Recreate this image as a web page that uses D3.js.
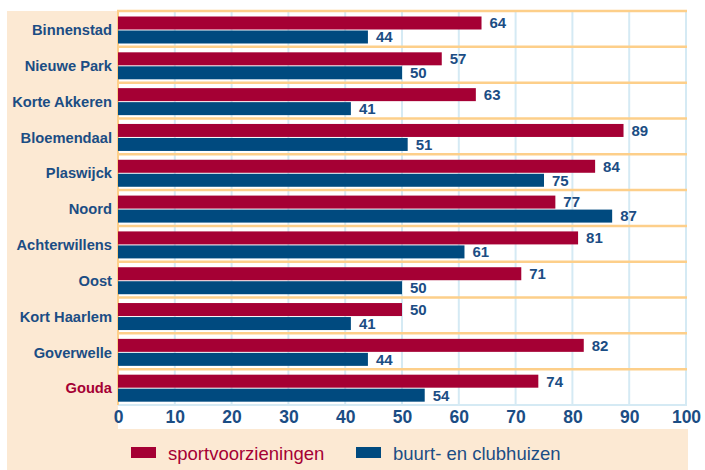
<!DOCTYPE html>
<html><head><meta charset="utf-8">
<script src="https://cdn.jsdelivr.net/npm/d3@7"></script>
<style>body{margin:0;background:#fff}svg{display:block}text{font-family:"Liberation Sans",Arial,sans-serif}</style>
</head><body><svg id="c" width="705" height="470"></svg>
<script>
const categories=["Binnenstad","Nieuwe Park","Korte Akkeren","Bloemendaal","Plaswijck","Noord","Achterwillens","Oost","Kort Haarlem","Goverwelle","Gouda"];
const sport=[64,57,63,89,84,77,81,71,50,82,74];
const buurt=[44,50,41,51,75,87,61,50,41,44,54];
const seriesNames=["sportvoorzieningen","buurt- en clubhuizen"];
const ticks=[0,10,20,30,40,50,60,70,80,90,100];
const RED="#a50034",BLUE="#004a7f",TXT="#1b4d84",PEACH="#fce9d3",ORANGE="#fdcf8a",GRID="#d5eaf4";
const svg=d3.select("#c");
const L=118,R=686,T=11,B=405;
const x=d3.scaleLinear().domain([0,100]).range([L,R]);
const y=d3.scaleBand().domain(categories).range([T,B]);
// backgrounds
svg.append("rect").attr("x",7).attr("y",T).attr("width",L-7).attr("height",430-T).attr("fill",PEACH);
svg.append("rect").attr("x",7).attr("y",429).attr("width",688-7).attr("height",41).attr("fill",PEACH);
// grid
svg.append("g").selectAll("line").data(ticks.slice(1)).join("line")
 .attr("x1",d=>x(d)).attr("x2",d=>x(d)).attr("y1",T).attr("y2",B)
 .attr("stroke",GRID).attr("stroke-width",2);
svg.append("line").attr("x1",L).attr("x2",R+1).attr("y1",B).attr("y2",B).attr("stroke",GRID).attr("stroke-width",2);
// orange band lines
svg.append("g").selectAll("line").data(categories).join("line")
 .attr("x1",L-1).attr("x2",R+1).attr("y1",d=>y(d)).attr("y2",d=>y(d))
 .attr("stroke",ORANGE).attr("stroke-width",2.5);
svg.append("line").attr("x1",L).attr("x2",L).attr("y1",T).attr("y2",B).attr("stroke",ORANGE).attr("stroke-width",2);
const bh=13;
const g=svg.append("g");
categories.forEach((c,i)=>{
  const y0=y(c);
  g.append("rect").attr("x",x(0)).attr("y",y0+5.5).attr("width",x(sport[i])-x(0)).attr("height",bh).attr("fill",RED);
  g.append("rect").attr("x",x(0)).attr("y",y0+19.5).attr("width",x(buurt[i])-x(0)).attr("height",bh).attr("fill",BLUE);
  g.append("text").attr("x",x(sport[i])+8).attr("y",y0+12).attr("dy","0.36em").attr("fill",TXT)
   .attr("font-size",15).attr("font-weight","bold").text(sport[i]);
  g.append("text").attr("x",x(buurt[i])+8).attr("y",y0+26).attr("dy","0.36em").attr("fill",TXT)
   .attr("font-size",15).attr("font-weight","bold").text(buurt[i]);
  g.append("text").attr("x",112).attr("y",y0+y.bandwidth()/2+1).attr("dy","0.36em").attr("text-anchor","end")
   .attr("fill",c==="Gouda"?RED:TXT).attr("font-size",14.7).attr("font-weight","bold").text(c);
});
// x axis
const ax=svg.append("g").attr("transform",`translate(0,${B})`)
 .call(d3.axisBottom(x).tickValues(ticks).tickSize(0).tickPadding(6));
ax.select(".domain").remove();
ax.selectAll("text").attr("fill",TXT).attr("font-size",17.5).attr("font-weight","bold").attr("font-family","Liberation Sans, Arial, sans-serif");
// legend
const lg=svg.append("g");
[[131,RED],[356,BLUE]].forEach(([lx,col],i)=>{
  lg.append("rect").attr("x",lx).attr("y",447).attr("width",25).attr("height",11).attr("fill",col);
  lg.append("text").attr("x",lx+37).attr("y",453).attr("dy","0.36em").attr("fill",col===RED?RED:TXT)
   .attr("font-size",18.5).text(seriesNames[i]);
});
</script></body></html>
